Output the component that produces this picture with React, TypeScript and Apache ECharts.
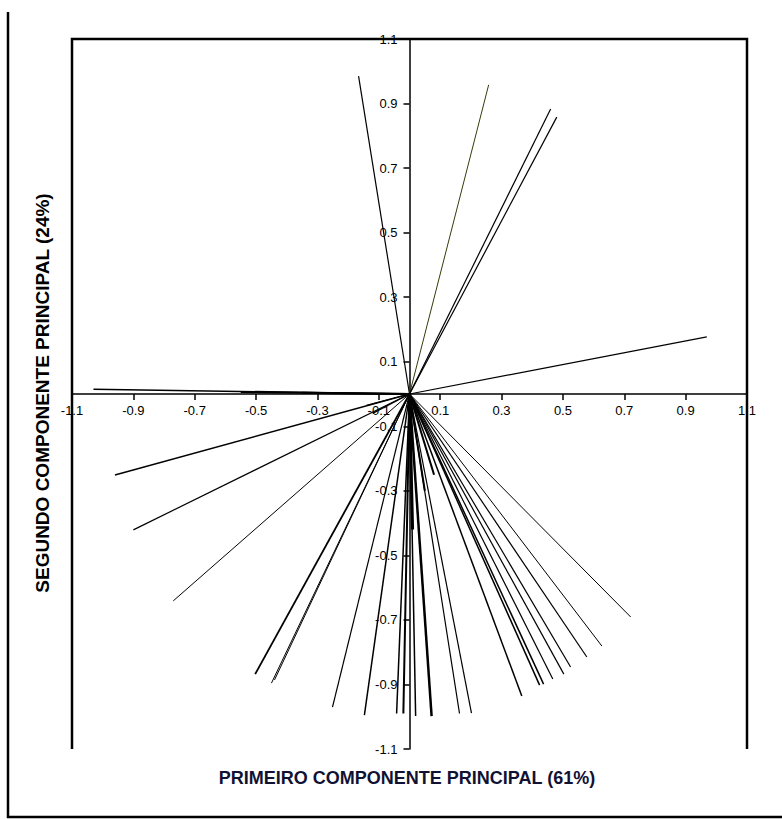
import React, { useEffect, useRef } from "react";
import * as echarts from "echarts";

// PCA loadings: end point of each vector (first component, second component)
const loadX = [
  -0.166, 0.258, 0.46, 0.48, 0.969,
  -1.03, -0.55, -0.35,
  -0.96, -0.9, -0.77, -0.503, -0.45, -0.44, -0.251, -0.147, -0.042, -0.02,
  -0.14, -0.12,
  0.02, 0.072, 0.163, 0.202, 0.366, 0.424, 0.437, 0.467, 0.503, 0.525, 0.578, 0.627, 0.721,
  0.01, 0.05, 0.08,
];
const loadY = [
  0.985, 0.958, 0.883, 0.858, 0.177,
  0.015, 0.006, 0.004,
  -0.251, -0.421, -0.641, -0.868, -0.896, -0.886, -0.97, -0.995, -0.99, -0.99,
  -0.035, -0.06,
  -0.998, -0.998, -0.99, -0.989, -0.936, -0.902, -0.899, -0.883, -0.868, -0.846, -0.815, -0.781, -0.691,
  -0.42, -0.3, -0.25,
];
const loadWidth = [
  1.2, 1, 1.2, 1.2, 1.2,
  1.5, 2, 2,
  1.5, 1.2, 1, 1.8, 1, 1, 1.2, 1.5, 1.5, 2,
  1.2, 1.2,
  1.5, 2.5, 1.2, 1.2, 1.5, 1.5, 1.5, 1.2, 1.2, 1.2, 1.2, 1, 1,
  3, 2, 2,
];
const loadColor = [
  "#000", "#3a3a0a", "#000", "#000", "#000",
  "#000", "#000", "#000",
  "#000", "#000", "#000", "#000", "#000", "#000", "#000", "#000", "#000", "#000",
  "#000", "#000",
  "#000", "#000", "#000", "#000", "#000", "#000", "#000", "#000", "#000", "#000", "#000", "#000", "#000",
  "#000", "#000", "#000",
];

const xTitle = "PRIMEIRO COMPONENTE PRINCIPAL (61%)";
const yTitle = "SEGUNDO COMPONENTE PRINCIPAL (24%)";

const axisMin = -1.1;
const axisMax = 1.1;
const axisStep = 0.2;

export default function App() {
  const ref = useRef<HTMLDivElement>(null);

  useEffect(() => {
    if (!ref.current) return;
    const chart = echarts.init(ref.current, null, { renderer: "svg" });
    const fmt = (v: number) => {
      const r = Math.round(v * 10) / 10;
      return String(r);
    };
    const labelStyle = {
      color: "#000",
      fontFamily: "Liberation Sans, Arial, sans-serif",
      fontSize: 13,
      formatter: fmt,
    };
    const series = loadX.map((x, i) => ({
      type: "line",
      symbol: "none",
      silent: true,
      data: [
        [0, 0],
        [x, loadY[i]],
      ],
      lineStyle: { color: loadColor[i], width: loadWidth[i] },
      z: 3,
    }));
    chart.setOption({
      animation: false,
      backgroundColor: "#fff",
      grid: { left: 72, top: 39, width: 675, height: 710 },
      xAxis: {
        type: "value",
        min: axisMin,
        max: axisMax,
        interval: axisStep,
        position: "bottom",
        offset: -355,
        axisLine: { onZero: false, lineStyle: { color: "#000", width: 1.5 } },
        axisTick: { show: true, length: 6, lineStyle: { color: "#000", width: 1.5 } },
        axisLabel: { ...labelStyle, margin: 10, showMinLabel: true, showMaxLabel: true },
        splitLine: { show: false },
      },
      yAxis: {
        type: "value",
        min: axisMin,
        max: axisMax,
        interval: axisStep,
        position: "left",
        offset: -337.5,
        axisLine: { onZero: false, lineStyle: { color: "#000", width: 1.5 } },
        axisTick: { show: true, length: 6, lineStyle: { color: "#000", width: 1.5 } },
        axisLabel: { ...labelStyle, margin: 12, showMinLabel: true, showMaxLabel: true },
        splitLine: { show: false },
      },
      graphic: [
        {
          type: "polyline",
          shape: { points: [[72, 749], [72, 39], [747, 39], [747, 749]] },
          style: { stroke: "#000", lineWidth: 2.5, fill: "none" },
          silent: true,
        },
        {
          type: "polyline",
          shape: { points: [[8, 12], [8, 817], [782, 817]] },
          style: { stroke: "#000", lineWidth: 2.5, fill: "none" },
          silent: true,
        },
        {
          type: "text",
          x: 407,
          y: 778,
          style: {
            text: xTitle,
            fill: "#111133",
            font: "bold 18px 'Liberation Sans', Arial, sans-serif",
            align: "center",
            verticalAlign: "middle",
          },
          silent: true,
        },
        {
          type: "text",
          x: 42,
          y: 393,
          rotation: Math.PI / 2,
          style: {
            text: yTitle,
            fill: "#000",
            font: "bold 19px 'Liberation Sans', Arial, sans-serif",
            align: "center",
            verticalAlign: "middle",
          },
          silent: true,
        },
      ],
      series,
    });
    return () => chart.dispose();
  }, []);

  return (
    <div
      ref={ref}
      style={{ position: "absolute", left: 0, top: 0, width: 782, height: 819 }}
    />
  );
}
